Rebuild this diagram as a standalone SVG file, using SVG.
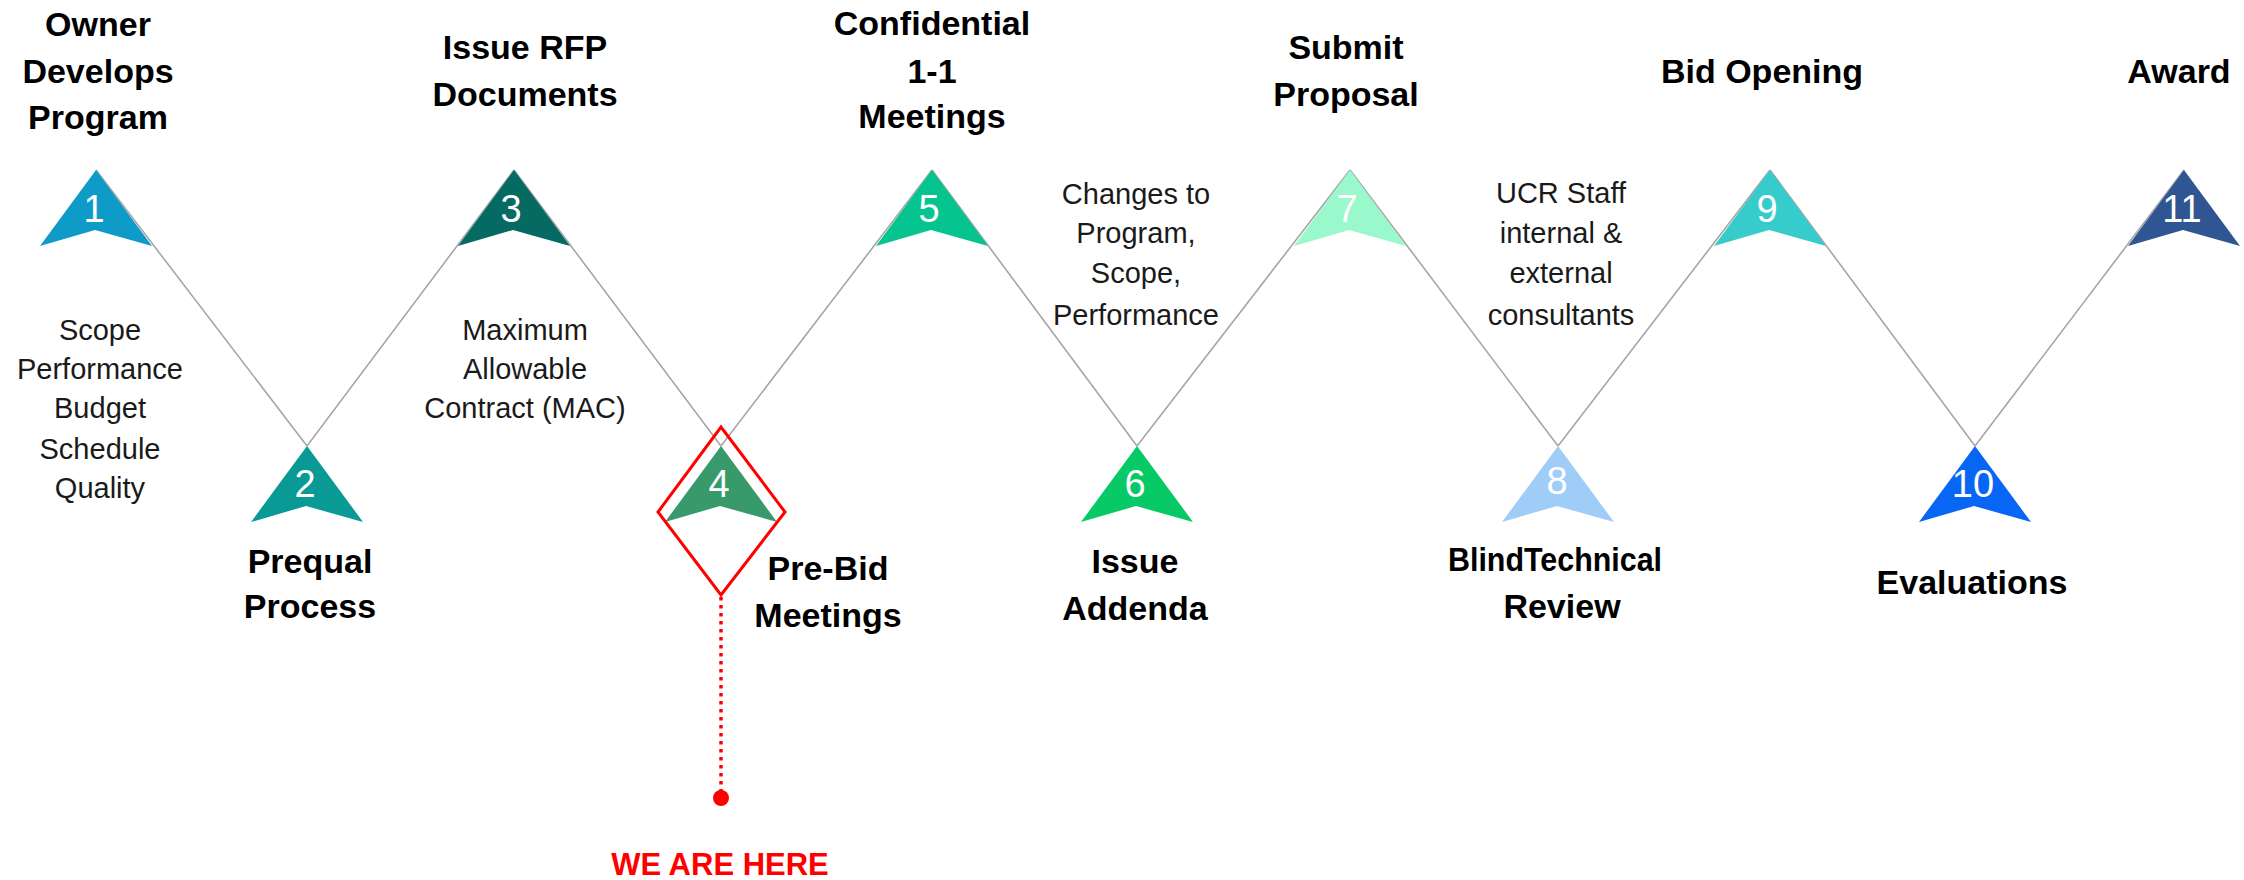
<svg xmlns="http://www.w3.org/2000/svg" xmlns:xlink="http://www.w3.org/1999/xlink" width="2244" height="880" viewBox="0 0 2244 880">
<style>
.title{font-family:"Liberation Sans",Arial,sans-serif;font-weight:bold;font-size:34px;fill:#000;text-anchor:middle}
.note{font-family:"Liberation Sans",Arial,sans-serif;font-size:29px;fill:#1a1a1a;text-anchor:middle}
.num{font-family:"Liberation Sans",Arial,sans-serif;font-size:38px;fill:#fff;text-anchor:middle}
.conn{stroke:#a6a6a6;stroke-width:1.6;fill:none}
.here{font-family:"Liberation Sans",Arial,sans-serif;font-weight:bold;font-size:31px;fill:#ff0000;text-anchor:middle}
</style>
<defs>
<path id="arrow" d="M0,0 L56,76 L-1,60 L-56,76 Z"/>
</defs>
<rect width="2244" height="880" fill="#fff"/>
<g id="connectors">
<line class="conn" x1="96" y1="170" x2="307" y2="446"/>
<line class="conn" x1="307" y1="446" x2="514" y2="170"/>
<line class="conn" x1="514" y1="170" x2="721" y2="446"/>
<line class="conn" x1="721" y1="446" x2="932" y2="170"/>
<line class="conn" x1="932" y1="170" x2="1137" y2="446"/>
<line class="conn" x1="1137" y1="446" x2="1350" y2="170"/>
<line class="conn" x1="1350" y1="170" x2="1558" y2="446"/>
<line class="conn" x1="1558" y1="446" x2="1770" y2="170"/>
<line class="conn" x1="1770" y1="170" x2="1975" y2="446"/>
<line class="conn" x1="1975" y1="446" x2="2184" y2="170"/>
</g>
<g id="step1">
<use xlink:href="#arrow" href="#arrow" x="96" y="170" fill="#0e9bc7"/>
<text class="num" x="94" y="222">1</text>
<text class="title" x="98" y="36">Owner</text>
<text class="title" x="98" y="83">Develops</text>
<text class="title" x="98" y="129">Program</text>
<text class="note" x="100" y="340">Scope</text>
<text class="note" x="100" y="379">Performance</text>
<text class="note" x="100" y="418">Budget</text>
<text class="note" x="100" y="459">Schedule</text>
<text class="note" x="100" y="498">Quality</text>
</g>
<g id="step2">
<use xlink:href="#arrow" href="#arrow" x="307" y="446" fill="#0a9a96"/>
<text class="num" x="305" y="497">2</text>
<text class="title" x="310" y="573">Prequal</text>
<text class="title" x="310" y="618">Process</text>
</g>
<g id="step3">
<use xlink:href="#arrow" href="#arrow" x="514" y="170" fill="#046a62"/>
<text class="num" x="511" y="222">3</text>
<text class="title" x="525" y="59">Issue RFP</text>
<text class="title" x="525" y="106">Documents</text>
<text class="note" x="525" y="340">Maximum</text>
<text class="note" x="525" y="379">Allowable</text>
<text class="note" x="525" y="418">Contract (MAC)</text>
</g>
<g id="step4">
<use xlink:href="#arrow" href="#arrow" x="721" y="446" fill="#389a6a"/>
<text class="num" x="719" y="497">4</text>
<text class="title" x="828" y="580">Pre-Bid</text>
<text class="title" x="828" y="627">Meetings</text>
</g>
<g id="step5">
<use xlink:href="#arrow" href="#arrow" x="932" y="170" fill="#05c48f"/>
<text class="num" x="929" y="222">5</text>
<text class="title" x="932" y="35">Confidential</text>
<text class="title" x="932" y="83">1-1</text>
<text class="title" x="932" y="128">Meetings</text>
<text class="note" x="1136" y="204">Changes to</text>
<text class="note" x="1136" y="243">Program,</text>
<text class="note" x="1136" y="283">Scope,</text>
<text class="note" x="1136" y="325">Performance</text>
</g>
<g id="step6">
<use xlink:href="#arrow" href="#arrow" x="1137" y="446" fill="#07c965"/>
<text class="num" x="1135" y="497">6</text>
<text class="title" x="1135" y="573">Issue</text>
<text class="title" x="1135" y="620">Addenda</text>
</g>
<g id="step7">
<use xlink:href="#arrow" href="#arrow" x="1350" y="170" fill="#99f8cc"/>
<text class="num" x="1347" y="222">7</text>
<text class="title" x="1346" y="59">Submit</text>
<text class="title" x="1346" y="106">Proposal</text>
<text class="note" x="1561" y="203">UCR Staff</text>
<text class="note" x="1561" y="243">internal &amp;</text>
<text class="note" x="1561" y="283">external</text>
<text class="note" x="1561" y="325">consultants</text>
</g>
<g id="step8">
<use xlink:href="#arrow" href="#arrow" x="1558" y="446" fill="#9fcdf7"/>
<text class="num" x="1557" y="494">8</text>
<text class="title" x="1555" y="571" textLength="214" lengthAdjust="spacingAndGlyphs">BlindTechnical</text>
<text class="title" x="1562" y="618">Review</text>
</g>
<g id="step9">
<use xlink:href="#arrow" href="#arrow" x="1770" y="170" fill="#36cccc"/>
<text class="num" x="1767" y="222">9</text>
<text class="title" x="1762" y="83">Bid Opening</text>
</g>
<g id="step10">
<use xlink:href="#arrow" href="#arrow" x="1975" y="446" fill="#0866f5"/>
<text class="num" x="1973" y="497">10</text>
<text class="title" x="1972" y="594">Evaluations</text>
</g>
<g id="step11">
<use xlink:href="#arrow" href="#arrow" x="2184" y="170" fill="#2f5592"/>
<text class="num" x="2182" y="222">11</text>
<text class="title" x="2179" y="83">Award</text>
</g>
<g id="we-are-here">
<path d="M721,427 L785,512 L721,595 L658,512 Z" fill="none" stroke="#ff0000" stroke-width="3"/>
<line x1="721" y1="597" x2="721" y2="792" stroke="#ff0000" stroke-width="3.5" stroke-dasharray="3.5 4.5"/>
<circle cx="721" cy="798" r="8" fill="#ff0000"/>
<text class="here" x="720" y="875">WE ARE HERE</text>
</g>
</svg>
